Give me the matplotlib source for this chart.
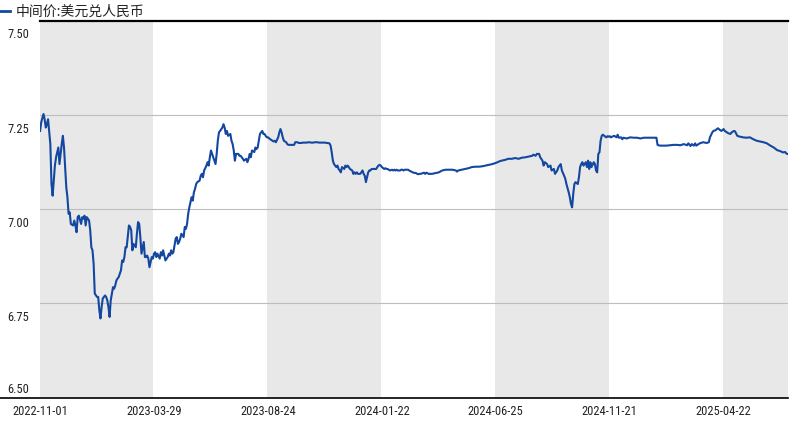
import matplotlib
matplotlib.use('Agg')
import matplotlib.pyplot as plt
import matplotlib.transforms as mtransforms
from matplotlib.lines import Line2D

# trading-day index (0 = 2022-11-01) and USD/CNY central parity
day = [
    0, 1, 3, 4, 5, 6, 7, 9, 10, 11,
    12, 13, 14, 16, 17, 18, 19, 20, 21, 23,
    24, 25, 26, 27, 29, 30, 31, 32, 33, 34,
    36, 37, 38, 39, 40, 41, 43, 44, 45, 46,
    47, 48, 50, 51, 52, 53, 54, 55, 57, 58,
    59, 60, 61, 62, 64, 65, 66, 67, 68, 69,
    71, 72, 73, 74, 75, 76, 78, 79, 80, 81,
    82, 84, 85, 86, 87, 88, 89, 91, 92, 93,
    94, 95, 96, 98, 99, 100, 101, 102, 103, 105,
    106, 107, 108, 109, 110, 112, 113, 114, 115, 116,
    117, 119, 120, 121, 122, 123, 124, 126, 127, 128,
    129, 130, 131, 133, 134, 135, 136, 137, 138, 140,
    141, 142, 143, 144, 146, 147, 148, 149, 150, 151,
    153, 154, 155, 156, 157, 158, 160, 161, 162, 163,
    164, 165, 167, 168, 169, 170, 171,
    172, 174, 175, 176, 177, 178, 179, 181, 182, 183,
    184, 185, 186, 188, 189, 190, 191, 192, 193, 195,
    196, 197, 198, 199, 200, 202, 203, 204, 205, 206,
    207, 209, 210, 211, 212, 213, 214, 216, 217, 218,
    220, 221, 223, 224, 226, 227, 229, 231, 233, 234,
    236, 238, 240, 241, 243, 245, 247, 248, 250, 252,
    254, 255, 256, 257, 258, 260, 261, 262, 263, 264,
    265, 267, 268, 269, 270, 271, 272, 274, 275, 276,
    277, 278, 279, 281, 282, 283, 284, 285, 286, 288,
    289, 290, 291, 292, 293, 295, 296, 297, 298, 299,
    300, 302, 303, 304, 305, 306, 307, 309, 310, 311,
    312, 313, 314, 316, 317, 318, 319, 320, 321, 323,
    324, 325, 326, 327, 328, 330, 331, 332, 333, 334,
    336, 337, 338, 339, 340, 341,
    344, 347, 350, 353, 356, 359, 362, 365, 366, 367,
    370, 373, 376, 379, 382, 385, 388, 391, 394, 397,
    400, 403, 405, 408, 411, 414, 417, 420, 423, 426,
    429, 432, 433, 435, 436, 438, 439, 441, 442, 443,
    445, 446, 448, 449, 451, 452, 454, 455, 457, 458,
    460, 461, 462, 464, 465, 466, 467, 468, 469, 470,
    472, 473, 474, 475, 476, 477, 479, 480, 481, 482,
    483, 484, 486, 487, 488, 489, 490, 491, 492, 493,
    494, 496, 497, 498, 499, 500, 501, 503, 504, 505,
    506, 507, 508, 510, 511, 512,
    515, 518, 521, 524, 527, 530, 533, 536, 538, 541,
    542, 544, 547, 550, 553, 556, 559, 562, 565, 568,
    569, 571, 572, 574, 575, 576, 578, 579, 582, 585,
    587, 588, 590, 591, 593, 594, 595, 597, 598, 600,
    601, 603, 604, 606, 607, 609, 610, 612, 614, 617,
    620, 623, 626, 629, 632, 635, 638, 641, 644, 647,
    650, 652, 654, 655, 656,
]
rate = [
    7.208, 7.231, 7.253, 7.239, 7.217, 7.226, 7.239, 7.173, 7.067, 7.036,
    7.076, 7.116, 7.138, 7.164, 7.120, 7.147, 7.173, 7.195, 7.164, 7.058,
    7.032, 6.988, 6.992, 6.961, 6.957, 6.970, 6.957, 6.939, 6.979, 6.983,
    6.961, 6.979, 6.975, 6.983, 6.957, 6.979, 6.970, 6.944, 6.899, 6.891,
    6.855, 6.776, 6.767, 6.767, 6.732, 6.710, 6.740, 6.763, 6.771, 6.767,
    6.758, 6.740, 6.714, 6.758, 6.793, 6.789, 6.798, 6.811, 6.816, 6.820,
    6.838, 6.864, 6.860, 6.873, 6.899, 6.899, 6.957, 6.953, 6.944, 6.891,
    6.908, 6.899, 6.935, 6.966, 6.961, 6.926, 6.882, 6.913, 6.873, 6.873,
    6.877, 6.869, 6.846, 6.873, 6.869, 6.882, 6.886, 6.873, 6.882, 6.869,
    6.886, 6.877, 6.891, 6.877, 6.864, 6.873, 6.882, 6.877, 6.891, 6.882,
    6.886, 6.922, 6.926, 6.908, 6.913, 6.922, 6.935, 6.926, 6.953, 6.948,
    6.961, 6.988, 7.005, 7.032, 7.023, 7.045, 7.054, 7.067, 7.072, 7.076,
    7.089, 7.094, 7.085, 7.103, 7.116, 7.125, 7.116, 7.138, 7.156, 7.147,
    7.129, 7.120, 7.147, 7.182, 7.204, 7.208, 7.217, 7.226, 7.217, 7.200,
    7.208, 7.195, 7.200, 7.182, 7.173, 7.156, 7.129,
    7.147, 7.147, 7.142, 7.142, 7.138, 7.134, 7.129, 7.134, 7.125, 7.134,
    7.147, 7.138, 7.156, 7.152, 7.164, 7.160, 7.164, 7.182, 7.200, 7.208,
    7.200, 7.200, 7.195, 7.191, 7.191, 7.186, 7.184, 7.182, 7.180, 7.182,
    7.178, 7.191, 7.204, 7.213, 7.204, 7.191, 7.182, 7.178, 7.173, 7.171,
    7.171, 7.171, 7.171, 7.178, 7.178, 7.176, 7.176, 7.177, 7.177, 7.177,
    7.178, 7.177, 7.177, 7.178, 7.178, 7.177, 7.177, 7.177, 7.177, 7.176,
    7.175, 7.169, 7.151, 7.129, 7.120, 7.112, 7.116, 7.107, 7.103, 7.098,
    7.112, 7.107, 7.116, 7.112, 7.116, 7.112, 7.107, 7.103, 7.094, 7.098,
    7.094, 7.098, 7.094, 7.094, 7.098, 7.103, 7.094, 7.089, 7.072, 7.098,
    7.103, 7.103, 7.107, 7.107, 7.107, 7.107, 7.112, 7.116, 7.118, 7.116,
    7.112, 7.107, 7.109, 7.107, 7.107, 7.105, 7.103, 7.105, 7.103, 7.105,
    7.103, 7.105, 7.103, 7.103, 7.105, 7.105, 7.103, 7.105, 7.105, 7.105,
    7.103, 7.101, 7.100, 7.098, 7.097, 7.096, 7.094, 7.093, 7.094, 7.094,
    7.096, 7.097, 7.094, 7.097, 7.096, 7.094,
    7.094, 7.096, 7.098, 7.103, 7.105, 7.105, 7.105, 7.103, 7.100, 7.103,
    7.105, 7.107, 7.109, 7.112, 7.113, 7.113, 7.114, 7.116, 7.118, 7.120,
    7.123, 7.127, 7.129, 7.131, 7.134, 7.134, 7.136, 7.134, 7.137, 7.138,
    7.140, 7.142, 7.145, 7.142, 7.147, 7.147, 7.138, 7.129, 7.116, 7.125,
    7.120, 7.112, 7.116, 7.103, 7.107, 7.094, 7.103, 7.112, 7.120, 7.103,
    7.089, 7.081, 7.067, 7.045, 7.032, 7.014, 7.005, 7.041, 7.067, 7.072,
    7.067, 7.085, 7.112, 7.120, 7.125, 7.116, 7.125, 7.112, 7.129, 7.107,
    7.125, 7.112, 7.125, 7.120, 7.103, 7.098, 7.147, 7.151, 7.182, 7.195,
    7.198, 7.193, 7.191, 7.194, 7.193, 7.194, 7.191, 7.194, 7.195, 7.193,
    7.191, 7.198, 7.190, 7.191, 7.186, 7.190,
    7.188, 7.191, 7.190, 7.190, 7.188, 7.190, 7.190, 7.190, 7.190, 7.190,
    7.171, 7.169, 7.169, 7.169, 7.170, 7.171, 7.171, 7.170, 7.173, 7.170,
    7.175, 7.168, 7.173, 7.169, 7.175, 7.169, 7.173, 7.175, 7.178, 7.176,
    7.178, 7.191, 7.204, 7.208, 7.210, 7.213, 7.215, 7.210, 7.208, 7.213,
    7.208, 7.204, 7.202, 7.200, 7.204, 7.208, 7.207, 7.195, 7.193, 7.191,
    7.190, 7.191, 7.186, 7.182, 7.180, 7.178, 7.175, 7.169, 7.164, 7.157,
    7.154, 7.151, 7.152, 7.148, 7.147,
]

tick_days = [0, 100, 200, 300, 400, 500, 600]
tick_labels = ['2022-11-01', '2023-03-29', '2023-08-24', '2024-01-22',
               '2024-06-25', '2024-11-21', '2025-04-22']
y_ticks = [7.50, 7.25, 7.00, 6.75, 6.50]
last_day = 656
series_name = '中间价:美元兑人民币'

line_color = '#1347a0'
num_font = ['Roboto Condensed', 'Liberation Sans Narrow', 'Roboto', 'DejaVu Sans']
cjk_font = ['Noto Sans CJK SC', 'DejaVu Sans']

fig = plt.figure(figsize=(8, 4.27), dpi=100)
ax = fig.add_axes([0.0494, 0.0667, 0.9356, 0.8818])

# alternating shaded bands, one every other tick interval
for i, start in enumerate(tick_days):
    if i % 2 == 0:
        ax.axvspan(start - 0.5, min(start + 99.5, last_day + 0.5),
                   color='#e8e8e8', lw=0, zorder=0)

for v in y_ticks[1:-1]:
    ax.axhline(v, color='#bdbdbd', lw=0.8, zorder=1)

ax.plot(day, rate, color=line_color, lw=1.5, zorder=3)

ax.set_xlim(-0.5, last_day + 0.5)
ax.set_ylim(6.50, 7.50)
ax.set_xticks(tick_days)
ax.set_xticklabels(tick_labels, family=num_font, fontsize=9)
ax.tick_params(axis='x', length=0, pad=5, colors='#222222')
ax.set_yticks([])

for s in ['left', 'right', 'bottom']:
    ax.spines[s].set_visible(False)
ax.spines['top'].set_color('black')
ax.spines['top'].set_linewidth(1.6)

# bottom rule runs under the y labels too
fig.add_artist(Line2D([0, 0.985], [0.0667, 0.0667], color='black', lw=1.2))

# y labels sit just under their gridline (last one above the baseline)
trans = mtransforms.blended_transform_factory(fig.transFigure, ax.transData)
for v in y_ticks:
    dy = 5.5 / 100 if v == y_ticks[-1] else -16.5 / 100
    off = mtransforms.ScaledTranslation(0, dy, fig.dpi_scale_trans)
    fig.text(7 / 800, v, f'{v:.2f}', transform=trans + off, ha='left',
             va='baseline', family=num_font, fontsize=9, color='#222222')

# legend entry at top-left
fig.add_artist(Line2D([0, 10 / 800], [1 - 12 / 427, 1 - 12 / 427],
                      color=line_color, lw=2))
fig.text(16 / 800, 1 - 12 / 427, series_name, ha='left', va='center',
         family=cjk_font, fontsize=10, color='#222222')

plt.savefig('out.png', dpi=100)
